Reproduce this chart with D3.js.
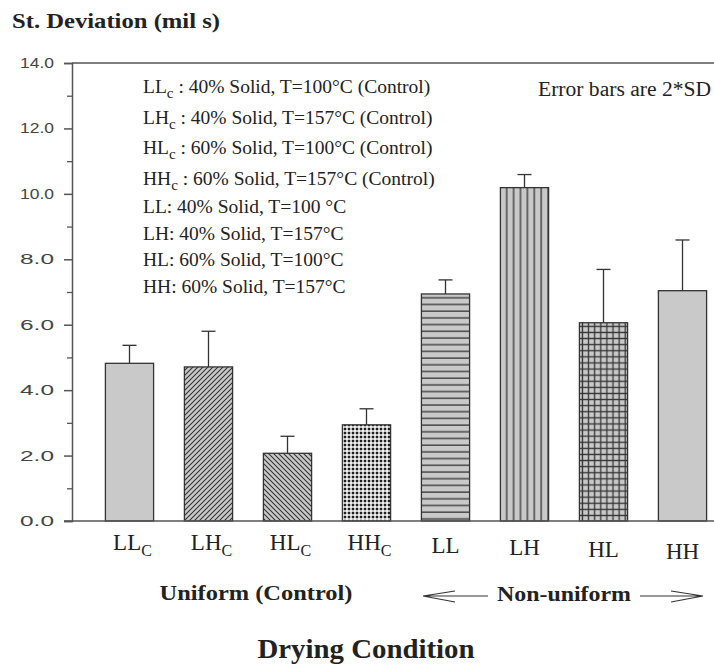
<!DOCTYPE html>
<html>
<head>
<meta charset="utf-8">
<script src="https://cdn.jsdelivr.net/npm/d3@7"></script>
<style>
  body { margin: 0; background: #fff; }
  svg { display: block; }
</style>
</head>
<body>
<script>
var w = 714;
var h = 664;

// bar data
var codes = ["LL", "LH", "HL", "HH", "LL", "LH", "HL", "HH"];
var isControl = [true, true, true, true, false, false, false, false];
var means = [4.82, 4.71, 2.07, 2.94, 6.94, 10.19, 6.06, 7.04];
var errTops = [5.37, 5.80, 2.59, 3.43, 7.37, 10.59, 7.69, 8.59];
var fills = ["plain", "fwd", "back", "dots", "horiz", "vert", "grid", "plain"];

// axis ticks
var majorTicks = [0, 2, 4, 6, 8, 10, 12, 14];
var minorTicks = [1, 3, 5, 7, 9, 11, 13];

// legend rows
var legendCodes = ["LL", "LH", "HL", "HH", "LL", "LH", "HL", "HH"];
var legendSub = [true, true, true, true, false, false, false, false];
var legendText = [
  " : 40% Solid, T=100\u00b0C (Control)",
  " : 40% Solid, T=157\u00b0C (Control)",
  " : 60% Solid, T=100\u00b0C (Control)",
  " : 60% Solid, T=157\u00b0C (Control)",
  ": 40% Solid, T=100 \u00b0C",
  ": 40% Solid, T=157\u00b0C",
  ": 60% Solid, T=100\u00b0C",
  ": 60% Solid, T=157\u00b0C"
];

var gray = "#c9c9c9";
var serif = "'Liberation Serif', 'DejaVu Serif', serif";
var sans = "'Liberation Sans', Arial, sans-serif";

var svg = d3.select("body").append("svg")
    .attr("width", w)
    .attr("height", h);

// patterns
var defs = svg.append("defs");
function pattern(id, size, draw) {
    var p = defs.append("pattern")
        .attr("id", id)
        .attr("patternUnits", "userSpaceOnUse")
        .attr("width", size)
        .attr("height", size);
    p.append("rect").attr("width", size).attr("height", size).attr("fill", gray);
    draw(p, size);
}
pattern("fwd", 5, function(p, s) {
    p.append("path").attr("d", "M0," + s + "L" + s + ",0M-1,1L1,-1M" + (s - 1) + "," + (s + 1) + "L" + (s + 1) + "," + (s - 1))
        .attr("stroke", "#333").attr("stroke-width", 1.1);
});
pattern("back", 5, function(p, s) {
    p.append("path").attr("d", "M0,0L" + s + "," + s + "M-1," + (s - 1) + "L1," + (s + 1) + "M" + (s - 1) + ",-1L" + (s + 1) + ",1")
        .attr("stroke", "#333").attr("stroke-width", 1.1);
});
pattern("dots", 4, function(p, s) {
    p.append("rect").attr("width", s).attr("height", s).attr("fill", "#bdbdbd");
    p.append("rect").attr("x", 0).attr("y", 0).attr("width", 2).attr("height", 2).attr("fill", "#1e1e1e");
    p.append("rect").attr("x", 2).attr("y", 2).attr("width", 2).attr("height", 2).attr("fill", "#eee");
});
pattern("horiz", 6.7, function(p, s) {
    p.append("line").attr("x1", 0).attr("x2", s).attr("y1", 3).attr("y2", 3)
        .attr("stroke", "#333").attr("stroke-width", 1.3);
});
pattern("vert", 6.9, function(p, s) {
    p.append("line").attr("y1", 0).attr("y2", s).attr("x1", 3).attr("x2", 3)
        .attr("stroke", "#333").attr("stroke-width", 1.3);
});
pattern("grid", 6.1, function(p, s) {
    p.append("path").attr("d", "M0,3H" + s + "M3,0V" + s)
        .attr("stroke", "#333").attr("stroke-width", 1.3);
});

// scales
var x0 = 72, yTop = 63, yBase = 521;
var idx = d3.range(codes.length);
var xScale = d3.scaleBand()
    .domain(idx)
    .range([90, 722])
    .paddingInner(0.39)
    .paddingOuter(0.195);
var yScale = d3.scaleLinear()
    .domain([0, 14])
    .range([yBase, yTop]);

// top frame line
svg.append("line")
    .attr("x1", x0).attr("x2", w).attr("y1", yTop).attr("y2", yTop)
    .attr("stroke", "#555").attr("stroke-width", 1.3);

// bars
svg.selectAll("rect.bar")
    .data(idx)
    .enter()
    .append("rect")
    .attr("class", "bar")
    .attr("x", function(i) { return xScale(i); })
    .attr("y", function(i) { return yScale(means[i]); })
    .attr("width", xScale.bandwidth())
    .attr("height", function(i) { return yBase - yScale(means[i]); })
    .attr("fill", function(i) { return fills[i] == "plain" ? gray : "url(#" + fills[i] + ")"; })
    .attr("stroke", "#333")
    .attr("stroke-width", 1.3);

// error bars (upper only)
var errs = svg.append("g").attr("stroke", "#333").attr("stroke-width", 1.3);
idx.forEach(function(i) {
    var cx = xScale(i) + xScale.bandwidth() / 2;
    errs.append("line")
        .attr("x1", cx).attr("x2", cx)
        .attr("y1", yScale(means[i])).attr("y2", yScale(errTops[i]));
    errs.append("line")
        .attr("x1", cx - 7).attr("x2", cx + 7)
        .attr("y1", yScale(errTops[i])).attr("y2", yScale(errTops[i]));
});

// y axis
var yAxis = d3.axisLeft(yScale)
    .tickValues(majorTicks)
    .tickSize(8)
    .tickPadding(10)
    .tickFormat(d3.format(".1f"));
var gy = svg.append("g")
    .attr("transform", "translate(" + x0 + ",0)")
    .call(yAxis);
gy.select(".domain").attr("stroke", "#555").attr("stroke-width", 1.5);
gy.selectAll(".tick line").attr("stroke", "#555").attr("stroke-width", 1.5);
gy.selectAll(".tick text")
    .attr("font-family", sans)
    .attr("font-size", "14px")
    .attr("textLength", 34)
    .attr("lengthAdjust", "spacingAndGlyphs")
    .attr("fill", "#444");

svg.append("g")
    .attr("transform", "translate(" + x0 + ",0)")
    .call(d3.axisLeft(yScale).tickValues(minorTicks).tickSize(5).tickFormat(""))
    .call(function(g) {
        g.select(".domain").remove();
        g.selectAll(".tick line").attr("stroke", "#555").attr("stroke-width", 1.3);
    });

// baseline
svg.append("line")
    .attr("x1", x0 - 8).attr("x2", w).attr("y1", yBase).attr("y2", yBase)
    .attr("stroke", "#555").attr("stroke-width", 1.5);

// x category labels
var xl = svg.append("g")
    .attr("font-family", serif)
    .attr("font-size", "23px")
    .attr("fill", "#222")
    .attr("text-anchor", "middle");
idx.forEach(function(i) {
    var t = xl.append("text")
        .attr("x", xScale(i) + xScale.bandwidth() / 2 + (isControl[i] ? 3 : 0))
        .attr("y", isControl[i] ? 550 : 553 + (i - 4) * 2);
    t.append("tspan").text(codes[i]);
    if (isControl[i]) {
        t.append("tspan").attr("font-size", "16px").attr("dy", 6).text("C");
    }
});

// group labels
svg.append("text")
    .attr("x", 256).attr("y", 600)
    .attr("text-anchor", "middle")
    .attr("font-family", serif).attr("font-weight", "bold").attr("font-size", "22px")
    .attr("textLength", 193).attr("lengthAdjust", "spacingAndGlyphs")
    .attr("fill", "#222")
    .text("Uniform (Control)");
svg.append("text")
    .attr("x", 564).attr("y", 601)
    .attr("text-anchor", "middle")
    .attr("font-family", serif).attr("font-weight", "bold").attr("font-size", "22px")
    .attr("textLength", 134).attr("lengthAdjust", "spacingAndGlyphs")
    .attr("fill", "#222")
    .text("Non-uniform");

// arrows
var arr = svg.append("g").attr("stroke", "#333").attr("stroke-width", 1.2).attr("fill", "none");
arr.append("path").attr("d", "M488,596H423M423,596L455,591M423,596L455,602");
arr.append("path").attr("d", "M640,596H703M703,596L671,591M703,596L671,602");

// axis titles
svg.append("text")
    .attr("x", 12).attr("y", 28)
    .attr("font-family", serif).attr("font-weight", "bold").attr("font-size", "21px")
    .attr("textLength", 208).attr("lengthAdjust", "spacingAndGlyphs")
    .attr("fill", "#222")
    .text("St. Deviation (mil s)");
svg.append("text")
    .attr("x", 366).attr("y", 658)
    .attr("text-anchor", "middle")
    .attr("font-family", serif).attr("font-weight", "bold").attr("font-size", "27px")
    .attr("textLength", 217).attr("lengthAdjust", "spacingAndGlyphs")
    .attr("fill", "#222")
    .text("Drying Condition");

// note
svg.append("text")
    .attr("x", 711).attr("y", 96)
    .attr("text-anchor", "end")
    .attr("font-family", serif).attr("font-size", "20px")
    .attr("textLength", 173).attr("lengthAdjust", "spacingAndGlyphs")
    .attr("fill", "#222")
    .text("Error bars are 2*SD");

// legend
var lg = svg.append("g")
    .attr("font-family", serif)
    .attr("font-size", "19.5px")
    .attr("fill", "#222");
legendCodes.forEach(function(c, i) {
    var yy = i < 4 ? 93 + i * 30.5 : 213 + (i - 4) * 26.7;
    var t = lg.append("text").attr("x", 143).attr("y", yy);
    t.append("tspan").text(c);
    if (legendSub[i]) {
        t.append("tspan").attr("font-size", "15px").attr("dy", 5).text("c");
        t.append("tspan").attr("dy", -5).text(legendText[i]);
    } else {
        t.append("tspan").text(legendText[i]);
    }
});
</script>
</body>
</html>
